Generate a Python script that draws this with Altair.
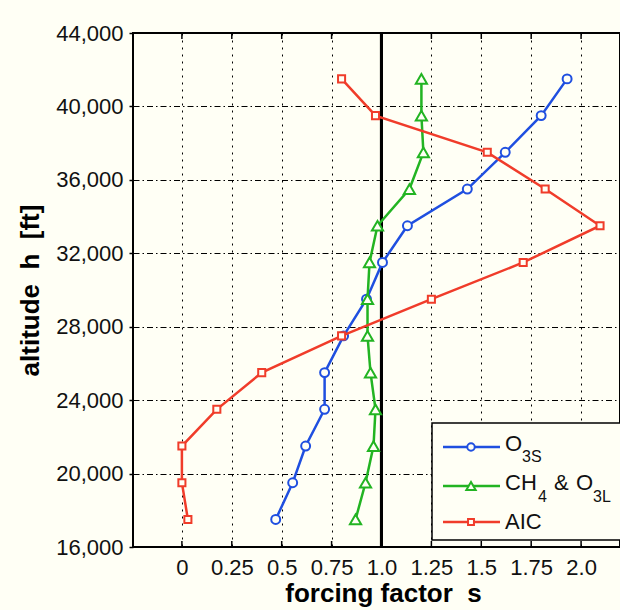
import altair as alt
import pandas as pd

# ---------------- data ----------------
altitude_ft = [17500, 19500, 21500, 23500, 25500, 27500, 29500, 31500,
               33500, 35500, 37500, 39500, 41500]
o3s = [0.47, 0.555, 0.62, 0.715, 0.715, 0.81, 0.925, 1.005, 1.13, 1.43, 1.62, 1.80, 1.93]
ch4_o3l = [0.87, 0.92, 0.96, 0.97, 0.945, 0.93, 0.93, 0.94, 0.98, 1.14, 1.21, 1.20, 1.20]
aic = [0.03, 0.0, 0.0, 0.175, 0.40, 0.80, 1.25, 1.71, 2.095, 1.82, 1.53, 0.97, 0.80]

series_names = ["O3S", "CH4 & O3L", "AIC"]
series_values = [o3s, ch4_o3l, aic]
series_colors = ["#1f4fe0", "#22b422", "#f03c2a"]
series_shapes = ["circle", "triangle-up", "square"]
series_sizes = [80, 125, 50]

x_ticks = [0, 0.25, 0.5, 0.75, 1.0, 1.25, 1.5, 1.75, 2.0]
x_tick_labels = ["0", "0.25", "0.5", "0.75", "1.0", "1.25", "1.5", "1.75", "2.0"]
y_ticks = [16000, 20000, 24000, 28000, 32000, 36000, 40000, 44000]

NB = "\u00a0"
x_title = "forcing factor" + NB + NB + "s"
y_title = "altitude" + NB + NB + "h" + NB + NB + "[ft]"

BG = "#fffff5"
FONT = "Liberation Sans"
W, H = 487, 514

# ---------------- scales / axes ----------------
xscale = alt.Scale(domain=[-0.245, 2.195], nice=False, zero=False)
yscale = alt.Scale(domain=[16000, 44000], nice=False, zero=False)

label_expr = "[" + ",".join("'%s'" % s for s in x_tick_labels) + "][indexof([" + \
    ",".join(str(v) for v in x_ticks) + "], datum.value)]"

xaxis = alt.Axis(values=x_ticks, labelExpr=label_expr, grid=True, gridDash=[2, 5],
                 gridColor="black", gridOpacity=1, gridWidth=1, ticks=False, domain=False,
                 labelFont=FONT, labelFontSize=22, labelColor="#111", labelPadding=10,
                 labelFlush=False,
                 title=x_title, titleFont=FONT, titleFontSize=26, titleFontWeight="bold",
                 titleColor="black", titlePadding=2, titleX=250)
yaxis = alt.Axis(values=y_ticks, format=",d", grid=True, gridDash=[6, 3, 1.5, 3],
                 gridColor="black", gridOpacity=1, gridWidth=1, ticks=True, tickSize=4,
                 tickColor="black", tickWidth=1.5, domain=False,
                 labelFont=FONT, labelFontSize=22, labelColor="#111", labelPadding=6,
                 labelFlush=False,
                 title=y_title, titleFont=FONT, titleFontSize=26, titleFontWeight="bold",
                 titleColor="black", titlePadding=12)

def X(field="s"):
    return alt.X(f"{field}:Q", scale=xscale, axis=xaxis)

def Y(field="h"):
    return alt.Y(f"{field}:Q", scale=yscale, axis=yaxis)

# ---------------- layers ----------------
layers = []

tick_df = pd.DataFrame({"s": x_ticks})
# black reference line at s = 1
layers.append(alt.Chart(tick_df).mark_rule(color="black", strokeWidth=3).encode(
    x=alt.datum(1.0, scale=xscale), y=alt.value(0), y2=alt.value(H)))

# series
for name, vals, col, shp, sz in zip(series_names, series_values, series_colors,
                                    series_shapes, series_sizes):
    df = pd.DataFrame({"h": altitude_ft, "s": vals, "series": name})
    base = alt.Chart(df).encode(x=X(), y=Y(), order=alt.Order("h:Q"))
    layers.append(base.mark_line(color=col, strokeWidth=2.5))
    layers.append(base.mark_point(shape=shp, size=sz, filled=False, fill=BG, fillOpacity=1,
                                  stroke=col, strokeWidth=2, opacity=1))

# inward ticks bottom and top
layers.append(alt.Chart(tick_df).mark_rule(color="black", strokeWidth=1.5).encode(
    x=X(), y=alt.value(H), y2=alt.value(H - 6)))
layers.append(alt.Chart(tick_df).mark_rule(color="black", strokeWidth=1.5).encode(
    x=X(), y=alt.value(0), y2=alt.value(6)))

# ---------------- manual legend ----------------
one = pd.DataFrame({"k": [0]})
layers.append(alt.Chart(one).mark_rect(fill=BG, stroke="black", strokeWidth=1.5).encode(
    x=alt.value(299), x2=alt.value(495), y=alt.value(390), y2=alt.value(507)))

leg_y = [414, 453, 489]
for yy, col, shp, sz in zip(leg_y, series_colors, series_shapes, series_sizes):
    layers.append(alt.Chart(one).mark_rule(color=col, strokeWidth=2.5).encode(
        x=alt.value(310), x2=alt.value(367), y=alt.value(yy)))
    layers.append(alt.Chart(one).mark_point(shape=shp, size=sz * 0.7, filled=False, fill=BG,
                                            fillOpacity=1, stroke=col, strokeWidth=2,
                                            opacity=1).encode(
        x=alt.value(338), y=alt.value(yy)))

# legend label pieces: (text, x, baseline y, font size)
legend_pieces = [
    ("O", 372, 418, 22), ("3S", 389, 428.5, 16),
    ("CH", 372, 457, 22), ("4", 405, 469, 16), ("&", 421, 457, 22), ("O", 443, 457, 22),
    ("3L", 460, 469, 16),
    ("AIC", 372, 496, 22),
]
for txt, xx, yy, fs in legend_pieces:
    layers.append(alt.Chart(one).mark_text(align="left", baseline="alphabetic", font=FONT,
                                           fontSize=fs, color="#111").encode(
        x=alt.value(xx), y=alt.value(yy), text=alt.value(txt)))

chart = alt.layer(*layers).properties(
    width=W, height=H,
    autosize=alt.AutoSizeParams(type="none"),
    padding={"left": 133, "top": 33, "right": 0, "bottom": 63},
    background=BG,
).configure_view(stroke="black", strokeWidth=2, fill=BG)

chart.save("out.html", embed_options={"renderer": "svg", "actions": False})
